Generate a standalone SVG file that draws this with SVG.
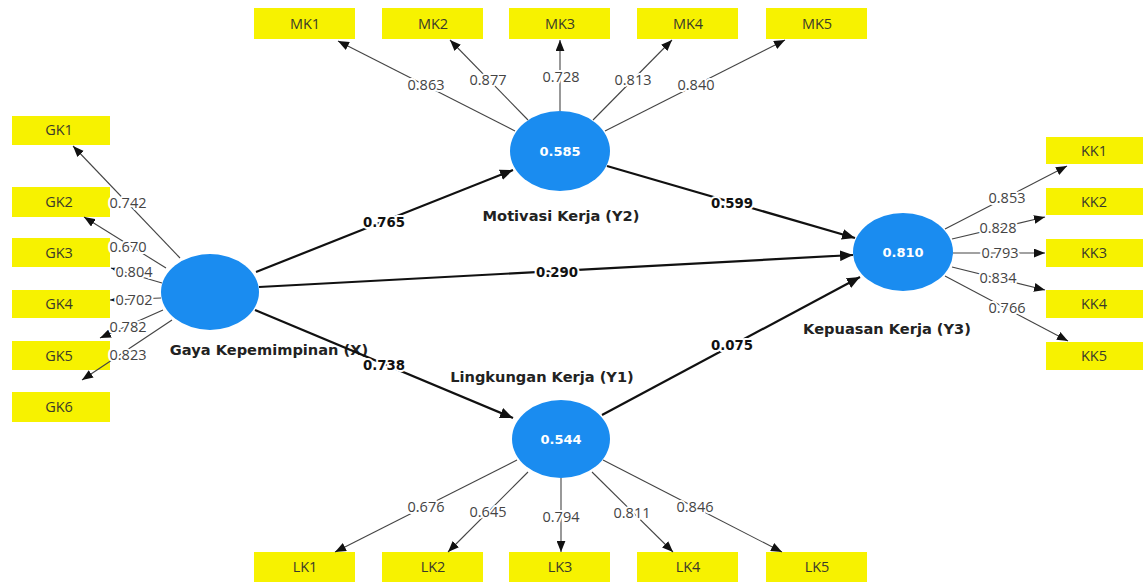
<svg xmlns="http://www.w3.org/2000/svg" width="1143" height="582" viewBox="0 0 1143 582">
<style>
.ind rect{fill:#f7f200;}
.ind text{font-family:"Open Sans","Noto Sans",sans-serif;font-size:14.5px;fill:#3a3a2a;text-anchor:middle;}
.lv ellipse{fill:#1a8cf0;}
.lv .val{font-family:"DejaVu Sans",sans-serif;font-size:13px;font-weight:bold;fill:#fff;text-anchor:middle;}
.lv .name{font-family:"DejaVu Sans",sans-serif;font-size:14.6px;font-weight:bold;fill:#222;text-anchor:middle;}
.ld{stroke:#444;stroke-width:1.1;fill:none;marker-end:url(#ah);}
.pth{stroke:#111;stroke-width:2.2;fill:none;marker-end:url(#ahb);}
.ldl{font-family:"Open Sans","Noto Sans",sans-serif;font-size:14.5px;fill:#444;text-anchor:middle;stroke:#fff;stroke-width:4;paint-order:stroke;stroke-linejoin:round;}
.pl{font-family:"DejaVu Sans",sans-serif;font-size:13.3px;font-weight:bold;fill:#111;text-anchor:middle;stroke:#fff;stroke-width:4;paint-order:stroke;stroke-linejoin:round;}
</style>
<defs>
<marker id="ah" viewBox="0 0 10 8" refX="10" refY="4" markerWidth="11" markerHeight="9" markerUnits="userSpaceOnUse" orient="auto"><path d="M0,0 L10,4 L0,8 z" fill="#111"/></marker>
<marker id="ahb" viewBox="0 0 12 10" refX="12" refY="5" markerWidth="13" markerHeight="11" markerUnits="userSpaceOnUse" orient="auto"><path d="M0,0 L12,5 L0,10 z" fill="#111"/></marker>
</defs>
<rect width="1143" height="582" fill="#fff"/>

<!-- indicators GK -->
<g id="GK1" class="ind"><rect x="12" y="116" width="98" height="29"/><text x="59" y="135">GK1</text></g>
<g id="GK2" class="ind"><rect x="12" y="187" width="98" height="30"/><text x="59" y="207">GK2</text></g>
<g id="GK3" class="ind"><rect x="12" y="238" width="98" height="29"/><text x="59" y="258">GK3</text></g>
<g id="GK4" class="ind"><rect x="12" y="290" width="98" height="28"/><text x="59" y="309">GK4</text></g>
<g id="GK5" class="ind"><rect x="12" y="341" width="98" height="29"/><text x="59" y="361">GK5</text></g>
<g id="GK6" class="ind"><rect x="12" y="392" width="98" height="30"/><text x="59" y="412">GK6</text></g>

<!-- indicators MK -->
<g id="MK1" class="ind"><rect x="254" y="8" width="101" height="31"/><text x="305" y="29">MK1</text></g>
<g id="MK2" class="ind"><rect x="382" y="8" width="101" height="31"/><text x="433" y="29">MK2</text></g>
<g id="MK3" class="ind"><rect x="509" y="8" width="101" height="31"/><text x="560" y="29">MK3</text></g>
<g id="MK4" class="ind"><rect x="637" y="8" width="101" height="31"/><text x="688" y="29">MK4</text></g>
<g id="MK5" class="ind"><rect x="766" y="8" width="101" height="31"/><text x="817" y="29">MK5</text></g>

<!-- indicators KK -->
<g id="KK1" class="ind"><rect x="1046" y="137" width="97" height="27"/><text x="1094" y="156">KK1</text></g>
<g id="KK2" class="ind"><rect x="1046" y="188" width="97" height="27"/><text x="1094" y="207">KK2</text></g>
<g id="KK3" class="ind"><rect x="1046" y="239" width="97" height="28"/><text x="1094" y="258">KK3</text></g>
<g id="KK4" class="ind"><rect x="1046" y="290" width="97" height="28"/><text x="1094" y="309">KK4</text></g>
<g id="KK5" class="ind"><rect x="1046" y="342" width="97" height="28"/><text x="1094" y="361">KK5</text></g>

<!-- indicators LK -->
<g id="LK1" class="ind"><rect x="254" y="552" width="101" height="30"/><text x="305" y="572">LK1</text></g>
<g id="LK2" class="ind"><rect x="382" y="552" width="101" height="30"/><text x="433" y="572">LK2</text></g>
<g id="LK3" class="ind"><rect x="509" y="552" width="101" height="30"/><text x="560" y="572">LK3</text></g>
<g id="LK4" class="ind"><rect x="637" y="552" width="101" height="30"/><text x="688" y="572">LK4</text></g>
<g id="LK5" class="ind"><rect x="766" y="552" width="101" height="30"/><text x="817" y="572">LK5</text></g>

<!-- latent variables -->
<g id="X" class="lv"><ellipse cx="210" cy="292" rx="49" ry="38"/><text class="name" x="269" y="355">Gaya Kepemimpinan (X)</text></g>
<g id="Y2" class="lv"><ellipse cx="560" cy="151" rx="50" ry="40"/><text class="val" x="560" y="156">0.585</text><text class="name" x="561" y="221">Motivasi Kerja (Y2)</text></g>
<g id="Y1" class="lv"><ellipse cx="561" cy="439" rx="49" ry="39"/><text class="val" x="561" y="444">0.544</text><text class="name" x="542" y="382">Lingkungan Kerja (Y1)</text></g>
<g id="Y3" class="lv"><ellipse cx="903" cy="252" rx="50" ry="39"/><text class="val" x="903" y="257">0.810</text><text class="name" x="887" y="334">Kepuasan Kerja (Y3)</text></g>

<!-- connectors -->
<g id="connectors">
<line class="ld" x1="180" y1="258" x2="73" y2="146"/>
<line class="ld" x1="166" y1="268" x2="84" y2="217"/>
<line class="ld" x1="162" y1="283" x2="111" y2="268"/>
<line class="ld" x1="161" y1="298" x2="110" y2="300"/>
<line class="ld" x1="163" y1="310" x2="100" y2="338"/>
<line class="ld" x1="172" y1="320" x2="82" y2="380"/>

<line class="ld" x1="515" y1="131" x2="338" y2="41"/>
<line class="ld" x1="528" y1="120" x2="450" y2="40"/>
<line class="ld" x1="560" y1="111" x2="560" y2="40"/>
<line class="ld" x1="593" y1="120" x2="672" y2="40"/>
<line class="ld" x1="605" y1="131" x2="785" y2="40"/>

<line class="ld" x1="945" y1="229" x2="1067" y2="166"/>
<line class="ld" x1="952" y1="239" x2="1045" y2="217"/>
<line class="ld" x1="953" y1="253" x2="1045" y2="253"/>
<line class="ld" x1="952" y1="267" x2="1045" y2="290"/>
<line class="ld" x1="945" y1="276" x2="1068" y2="341"/>

<line class="ld" x1="517" y1="460" x2="335" y2="552"/>
<line class="ld" x1="528" y1="472" x2="448" y2="552"/>
<line class="ld" x1="561" y1="478" x2="561" y2="552"/>
<line class="ld" x1="592" y1="472" x2="673" y2="552"/>
<line class="ld" x1="603" y1="460" x2="782" y2="552"/>

<line class="pth" x1="256" y1="272" x2="513" y2="170"/>
<line class="pth" x1="259" y1="287" x2="853" y2="255"/>
<line class="pth" x1="255" y1="310" x2="513" y2="418"/>
<line class="pth" x1="607" y1="166" x2="855" y2="238"/>
<line class="pth" x1="602" y1="415" x2="860" y2="277"/>

<text class="ldl" x="128" y="208">0.742</text>
<text class="ldl" x="128" y="252">0.670</text>
<text class="ldl" x="134" y="277">0.804</text>
<text class="ldl" x="134" y="305">0.702</text>
<text class="ldl" x="128" y="332">0.782</text>
<text class="ldl" x="128" y="360">0.823</text>

<text class="ldl" x="426" y="90">0.863</text>
<text class="ldl" x="488" y="85">0.877</text>
<text class="ldl" x="561" y="82">0.728</text>
<text class="ldl" x="633" y="85">0.813</text>
<text class="ldl" x="696" y="90">0.840</text>

<text class="ldl" x="1007" y="203">0.853</text>
<text class="ldl" x="998" y="233">0.828</text>
<text class="ldl" x="1000" y="258">0.793</text>
<text class="ldl" x="998" y="283">0.834</text>
<text class="ldl" x="1007" y="313">0.766</text>

<text class="ldl" x="426" y="512">0.676</text>
<text class="ldl" x="488" y="517">0.645</text>
<text class="ldl" x="561" y="522">0.794</text>
<text class="ldl" x="632" y="518">0.811</text>
<text class="ldl" x="695" y="512">0.846</text>

<text class="pl" x="384" y="227">0.765</text>
<text class="pl" x="557" y="277">0.290</text>
<text class="pl" x="384" y="370">0.738</text>
<text class="pl" x="732" y="208">0.599</text>
<text class="pl" x="732" y="350">0.075</text>
</g>
</svg>
